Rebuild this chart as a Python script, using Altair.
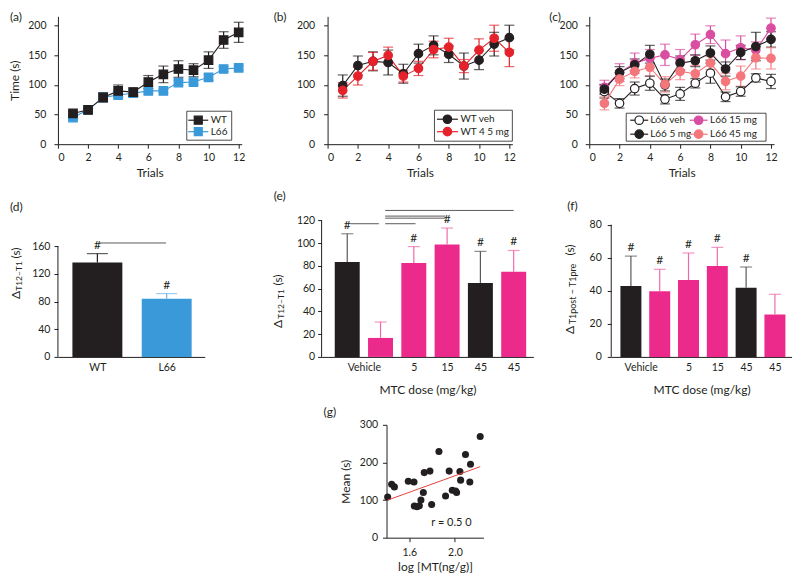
import json
import altair as alt
import pandas as pd

FONT = "Lato"
BLACK = "#231f20"
DGREY = "#4d4d4f"
BLUE = "#3a9ad9"
BLUE_L = "#6db6e6"
RED = "#e5222b"
RED_L = "#ee5a60"
MAGENTA = "#d94ea1"
MAGENTA_L = "#e584c0"
SALMON = "#f4777c"
SALMON_L = "#f6a3a6"
PINK = "#ec2a8c"
PINK_L = "#f06aab"
GREY = "#5a5a5c"
LINE_RED = "#e8413b"
WHITE = "#ffffff"

trials = list(range(1, 13))

# ---------------- panel (a)
a_names = ["WT", "L66"]
a_wt = [52, 58, 79, 90, 88, 105, 118, 127, 125, 142, 176, 189]
a_wt_err = [4, 3, 8, 10, 7, 11, 14, 14, 11, 14, 14, 17]
a_l66 = [45, 58, 79, 83, 86, 90, 90, 104, 105, 113, 127, 129]
a_l66_err = [3, 2, 3, 3, 3, 4, 3, 4, 4, 5, 4, 4]

# ---------------- panel (b)
b_names = ["WT veh", "WT 4 5 mg"]
b_veh = [99, 133, 140, 138, 119, 153, 167, 152, 132, 142, 169, 180]
b_veh_err = [18, 16, 16, 21, 16, 16, 16, 14, 22, 16, 20, 21]
b_45 = [91, 115, 140, 150, 115, 128, 160, 164, 132, 159, 179, 155]
b_45_err = [13, 15, 15, 14, 10, 12, 14, 15, 11, 19, 22, 24]

# ---------------- panel (c)
c_names = ["L66 veh", "L66 15 mg", "L66 5 mg", "L66 45 mg"]
c_veh = [89, 69, 94, 103, 76, 85, 103, 120, 80, 89, 112, 106]
c_veh_err = [11, 8, 11, 12, 8, 11, 8, 17, 8, 8, 7, 12]
c_15 = [96, 121, 137, 145, 151, 143, 168, 185, 153, 163, 159, 196]
c_15_err = [12, 15, 17, 15, 18, 17, 18, 15, 23, 20, 14, 17]
c_5 = [93, 121, 134, 152, 100, 137, 141, 154, 127, 155, 165, 177]
c_5_err = [8, 10, 10, 15, 10, 12, 10, 12, 12, 12, 24, 13]
c_45 = [69, 110, 123, 130, 101, 123, 119, 137, 106, 115, 146, 145]
c_45_err = [11, 11, 11, 15, 13, 14, 14, 11, 14, 17, 19, 18]

# ---------------- panel (d)
d_labels = ["WT", "L66"]
d_groups = ["WT", "L66"]
d_vals = [136.4, 84.3]
d_errs = [13.0, 7.3]
d_hash = [1, 1]
d_sig = {"x1": [0.03], "x2": [0.99], "y": [164.8]}

# ---------------- panel (e)
e_label_pos = [0.5, 2, 3, 4, 5]
e_labels = ["Vehicle", "5", "15", "45", "45"]
e_groups = ["WT", "L66", "L66", "L66", "WT", "L66"]
e_vals = [83.4, 16.7, 82.5, 98.9, 65.0, 74.9]
e_errs = [24.9, 14.0, 14.5, 14.4, 27.8, 18.7]
e_hash = [1, 0, 1, 1, 1, 1]
e_sig = {"x1": [0.09, 1.14, 1.14, 1.14, 1.14],
         "x2": [0.95, 2.05, 2.95, 2.95, 5.0],
         "y": [117.1, 117.1, 122.0, 123.8, 128.8]}

# ---------------- panel (f)
f_label_pos = [0.34, 2, 3, 4, 5]
f_labels = ["Vehicle", "5", "15", "45", "45"]
f_groups = ["WT", "L66", "L66", "L66", "WT", "L66"]
f_vals = [42.9, 39.7, 46.5, 55.0, 41.9, 25.6]
f_errs = [18.1, 13.3, 16.4, 11.3, 12.5, 12.3]
f_hash = [1, 1, 1, 1, 1, 0]

# ---------------- panel (g)
g_logmt = [1.41, 1.445, 1.469, 1.591, 1.641, 1.644, 1.668, 1.688, 1.702, 1.723,
           1.731, 1.781, 1.796, 1.86, 1.918, 1.95, 1.977, 2.006, 2.015, 2.044,
           2.05, 2.093, 2.131, 2.137, 2.222]
g_mean = [108, 142, 135, 150, 148, 84, 82, 85, 100, 120,
          173, 177, 88, 229, 111, 177, 126, 124, 120, 176,
          153, 221, 148, 195, 269]
g_r_text = "r = 0.5 0"

ONE = pd.DataFrame({"v": [0]})


def legend_layers(entries, box, half, shape, size):
    """entries: list of (label, stroke, fill, cx, cy, lx) in plot pixels."""
    x1, x2, y1, y2 = box
    out = [alt.Chart(ONE).mark_rect(fill=WHITE, stroke=BLACK, strokeWidth=0.8).encode(
        x=alt.value(x1), x2=alt.value(x2), y=alt.value(y1), y2=alt.value(y2))]
    for lab, stk, fil, cx, cy, lx in entries:
        out.append(alt.Chart(ONE).mark_rule(color=stk, strokeWidth=1.2).encode(
            x=alt.value(cx - half), x2=alt.value(cx + half), y=alt.value(cy)))
        out.append(alt.Chart(ONE).mark_point(
            shape=shape, filled=True, fill=fil, stroke=stk, strokeWidth=1.2,
            size=size, opacity=1).encode(x=alt.value(cx), y=alt.value(cy)))
        out.append(alt.Chart(ONE).mark_text(
            text=lab, fontSize=10, font=FONT, color=BLACK, align="left",
            baseline="middle").encode(x=alt.value(lx), y=alt.value(cy)))
    return out


def line_panel(names, means, errs, order, stroke_rng, fill_rng, err_rng,
               shape, leg_entries, leg_box, leg_half, label, label_dx,
               ytitle, width, ypad):
    rows = []
    for i in order:
        for t, m, e in zip(trials, means[i], errs[i]):
            rows.append({"series": names[i], "trial": t, "mean": m,
                         "lo": m - e, "hi": m + e})
    df = pd.DataFrame(rows)
    xs = alt.Scale(domain=[0, 12.2], nice=False, zero=False)
    ys = alt.Scale(domain=[0, 216], nice=False)
    xa = alt.Axis(values=[0, 2, 4, 6, 8, 10, 12], title="Trials",
                  labelPadding=4, titlePadding=5)
    if ytitle:
        ya = alt.Axis(values=[0, 50, 100, 150, 200], title=ytitle,
                      labelPadding=ypad, titlePadding=6)
    else:
        ya = alt.Axis(values=[0, 50, 100, 150, 200], title=None,
                      labelPadding=ypad)
    X = alt.X("trial:Q", scale=xs, axis=xa)
    cs = alt.Scale(domain=names, range=stroke_rng)
    es = alt.Scale(domain=names, range=err_rng)
    base = alt.Chart(df)
    lines = base.mark_line(strokeWidth=1.1).encode(
        x=X, y=alt.Y("mean:Q", scale=ys, axis=ya),
        color=alt.Color("series:N", scale=cs, legend=None))
    rules = base.mark_rule(strokeWidth=1.2).encode(
        x=X, y=alt.Y("lo:Q", scale=ys, axis=ya), y2="hi:Q",
        color=alt.Color("series:N", scale=es, legend=None))
    cap_lo = base.mark_tick(orient="horizontal", size=10, thickness=1.2).encode(
        x=X, y=alt.Y("lo:Q", scale=ys, axis=ya),
        color=alt.Color("series:N", scale=es, legend=None))
    cap_hi = base.mark_tick(orient="horizontal", size=10, thickness=1.2).encode(
        x=X, y=alt.Y("hi:Q", scale=ys, axis=ya),
        color=alt.Color("series:N", scale=es, legend=None))
    pts = base.mark_point(filled=True, size=72, opacity=1, strokeWidth=1.2,
                          shape=shape).encode(
        x=X, y=alt.Y("mean:Q", scale=ys, axis=ya),
        fill=alt.Fill("series:N", scale=alt.Scale(domain=names, range=fill_rng), legend=None),
        stroke=alt.Stroke("series:N", scale=alt.Scale(domain=names, range=stroke_rng), legend=None))
    leg = legend_layers(leg_entries, leg_box, leg_half, shape, 64 if shape == "square" else 72)
    return alt.layer(lines, rules, cap_lo, cap_hi, pts, *leg).properties(
        width=width, height=128,
        title=alt.TitleParams(text=label, anchor="start", frame="group",
                              dx=label_dx, offset=-8))


def bar_panel(label_pos, labels, vals, errs, groups, hashes, grp_dom, fill_rng,
              err_rng, xdom, ydom, yticks, bar_size, cap_size, sig, width,
              label, label_dx, label_off, ytitle_parts, xtitle, ypad):
    n = len(vals)
    df = pd.DataFrame({"idx": list(range(n)), "val": vals,
                       "top": [v + e for v, e in zip(vals, errs)],
                       "grp": groups, "hash": hashes})
    xs = alt.Scale(domain=xdom, nice=False, zero=False)
    ys = alt.Scale(domain=ydom, nice=False)
    lab_expr = "%s[indexof(%s, datum.value)]" % (json.dumps(labels), json.dumps(label_pos))
    if xtitle:
        xa = alt.Axis(values=label_pos, labelExpr=lab_expr, ticks=False,
                      title=xtitle, labelPadding=6, titlePadding=11)
    else:
        xa = alt.Axis(values=label_pos, labelExpr=lab_expr, ticks=False,
                      title=None, labelPadding=6)
    ya = alt.Axis(values=yticks, domain=False, title=None, labelPadding=ypad)
    X = alt.X("idx:Q", scale=xs, axis=xa)
    base = alt.Chart(df)
    fs = alt.Scale(domain=grp_dom, range=fill_rng)
    es = alt.Scale(domain=grp_dom, range=err_rng)
    bars = base.mark_bar(size=bar_size).encode(
        x=X, y=alt.Y("val:Q", scale=ys, axis=ya),
        fill=alt.Fill("grp:N", scale=fs, legend=None))
    rules = base.mark_rule(strokeWidth=1.2).encode(
        x=X, y=alt.Y("val:Q", scale=ys, axis=ya), y2="top:Q",
        color=alt.Color("grp:N", scale=es, legend=None))
    caps = base.mark_tick(orient="horizontal", size=cap_size, thickness=1.2).encode(
        x=X, y=alt.Y("top:Q", scale=ys, axis=ya),
        color=alt.Color("grp:N", scale=es, legend=None))
    hs = base.transform_filter("datum.hash == 1").mark_text(
        text="#", baseline="bottom", dy=-2, fontSize=12, font=FONT,
        color=BLACK).encode(x=X, y=alt.Y("top:Q", scale=ys, axis=ya))
    yline = alt.Chart(ONE).mark_rule(color=BLACK, strokeWidth=1).encode(
        x=alt.value(0), y=alt.YDatum(0, scale=ys, axis=ya),
        y2=alt.Y2Datum(max(yticks)))
    layers = [bars, rules, caps, hs, yline]
    if sig:
        sdf = pd.DataFrame(sig)
        layers.append(alt.Chart(sdf).mark_rule(strokeWidth=1, color=GREY).encode(
            x=alt.X("x1:Q", scale=xs, axis=xa), x2="x2:Q",
            y=alt.Y("y:Q", scale=ys, axis=ya)))
    for txt, fsz, px, py in ytitle_parts:
        layers.append(alt.Chart(ONE).mark_text(
            text=txt, angle=270, fontSize=fsz, font=FONT, color=BLACK,
            baseline="middle", align="center").encode(
            x=alt.value(px), y=alt.value(py)))
    return alt.layer(*layers).properties(
        width=width, height=137,
        title=alt.TitleParams(text=label, anchor="start", frame="group",
                              dx=label_dx, offset=label_off))


def spacer(w, h=20):
    return alt.Chart(ONE).mark_point(opacity=0).encode(
        x=alt.X("v:Q", axis=None), y=alt.Y("v:Q", axis=None)).properties(
        width=w, height=h)


pa = line_panel(a_names, [a_wt, a_l66], [a_wt_err, a_l66_err], [1, 0],
                [BLACK, BLUE], [BLACK, BLUE], [BLACK, BLUE], "square",
                [(a_names[0], BLACK, BLACK, 140.5, 104, 153),
                 (a_names[1], BLUE, BLUE, 140.5, 115.5, 153)],
                (129, 174, 95, 124), 10, "(a)", -48, "Time (s)", 184, 8)
pb = line_panel(b_names, [b_veh, b_45], [b_veh_err, b_45_err], [0, 1],
                [BLACK, RED], [BLACK, RED], [DGREY, RED_L], "circle",
                [(b_names[0], BLACK, BLACK, 120, 103, 133),
                 (b_names[1], RED, RED, 120, 115.5, 133)],
                (107, 185, 94, 125), 10.5, "(b)", -54, None, 185, 9)
pc = line_panel(c_names, [c_veh, c_15, c_5, c_45],
                [c_veh_err, c_15_err, c_5_err, c_45_err], [0, 1, 2, 3],
                [BLACK, MAGENTA, BLACK, SALMON], [WHITE, MAGENTA, BLACK, SALMON],
                [DGREY, MAGENTA_L, DGREY, SALMON_L], "circle",
                [(c_names[0], BLACK, WHITE, 50, 104, 61),
                 (c_names[2], BLACK, BLACK, 50, 118, 61),
                 (c_names[1], MAGENTA, MAGENTA, 109.5, 104, 121),
                 (c_names[3], SALMON, SALMON, 109.5, 118, 121)],
                (37, 177, 97, 125), 9, "(c)", -40, None, 185, 8)

pd_ = bar_panel([0, 1], d_labels, d_vals, d_errs, d_groups, d_hash,
                ["WT", "L66"], [BLACK, BLUE], [BLACK, BLUE_L],
                [-0.497, 1.477], [0, 197.9], [0, 40, 80, 120, 160], 50, 21,
                d_sig, 147, "(d)", -48, 6,
                [("Δ", 12, -42, 75), ("T12−T1", 8.5, -39, 56), ("(s)", 12, -42, 33)],
                None, 4)
pe = bar_panel(e_label_pos, e_labels, e_vals, e_errs, e_groups, e_hash,
               ["WT", "L66"], [BLACK, PINK], [GREY, PINK_L],
               [-0.62, 5.44], [0, 120.3], [0, 20, 40, 60, 80, 100, 120], 25, 12,
               e_sig, 212, "(e)", -48, 7,
               [("Δ", 12, -44, 104), ("T12−T1", 8.5, -41, 84), ("(s)", 12, -44, 60)],
               "MTC dose (mg/kg)", 3)
pf = bar_panel(f_label_pos, f_labels, f_vals, f_errs, f_groups, f_hash,
               ["WT", "L66"], [BLACK, PINK], [GREY, PINK_L],
               [-0.51, 5.42], [0, 82.8], [0, 20, 40, 60, 80], 21, 12,
               None, 181, "(f)", -44, 7,
               [("Δ", 12, -41, 110), ("T1post − T1pre", 9, -38, 74), ("(s)", 12, -41, 30)],
               "MTC dose (mg/kg)", 6)

# panel (g)
gdf = pd.DataFrame({"lx": g_logmt, "mean": g_mean})
gxs = alt.Scale(domain=[1.40, 2.25], nice=False, zero=False)
gys = alt.Scale(domain=[0, 300], nice=False)
gxa = alt.Axis(values=[1.6, 2.0], format=".1f", title="log [MT(ng/g)]",
               labelPadding=6, titlePadding=3)
gya = alt.Axis(values=[0, 100, 200, 300], title="Mean (s)", labelPadding=5,
               titlePadding=7)
gbase = alt.Chart(gdf)
g_pts = gbase.mark_circle(size=50, color=BLACK, opacity=1).encode(
    x=alt.X("lx:Q", scale=gxs, axis=gxa), y=alt.Y("mean:Q", scale=gys, axis=gya))
g_reg = gbase.transform_regression("lx", "mean").mark_line(
    color=LINE_RED, strokeWidth=1).encode(
    x=alt.X("lx:Q", scale=gxs, axis=gxa), y=alt.Y("mean:Q", scale=gys, axis=gya))
g_txt = alt.Chart(ONE).mark_text(
    text=g_r_text, fontSize=11, font=FONT, color=BLACK).encode(
    x=alt.value(65), y=alt.value(98))
pg = alt.layer(g_pts, g_reg, g_txt).properties(
    width=97, height=113,
    title=alt.TitleParams(text="(g)", anchor="start", frame="group",
                          dx=-63, offset=1))

IND = dict(color="independent", fill="independent", stroke="independent")

row1 = alt.hconcat(pa, spacer(86), pb, spacer(77), pc, spacing=0,
                   bounds="flush").resolve_scale(**IND)
row2 = alt.hconcat(pd_, spacer(117), pe, spacer(78), pf, spacing=0,
                   bounds="flush").resolve_scale(**IND)
row3 = alt.hconcat(spacer(329), pg, spacing=0,
                   bounds="flush").resolve_scale(**IND)

chart = alt.vconcat(
    row1, alt.vconcat(row2, row3, spacing=10).resolve_scale(**IND),
    spacing=10
).resolve_scale(**IND).properties(
    padding={"top": 3, "left": 0, "right": 0, "bottom": 0}
).configure_view(strokeWidth=0).configure_axis(
    labelFont=FONT, titleFont=FONT, labelFontSize=10.5, titleFontSize=12,
    titleFontWeight="normal", domainColor=BLACK, tickColor=BLACK,
    labelColor=BLACK, titleColor=BLACK, tickSize=4, grid=False,
    domainWidth=1, tickWidth=1
).configure_title(
    font=FONT, fontSize=12, fontWeight="normal", color=BLACK
).configure_text(font=FONT)

chart.save("out.html", embed_options={"renderer": "svg", "actions": False})
